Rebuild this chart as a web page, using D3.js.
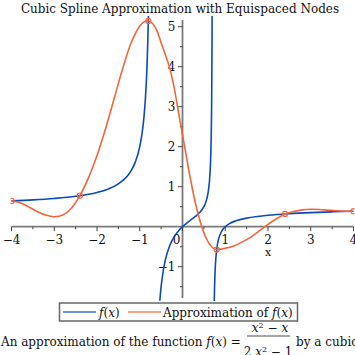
<!DOCTYPE html>
<html><head><meta charset="utf-8">
<script src="https://cdn.jsdelivr.net/npm/d3@7"></script>
<style>
body{margin:0;background:#fff;overflow:hidden;}
svg{display:block;}
text{font-family:"DejaVu Serif",serif;fill:#111;}
</style>
</head><body>
<svg id="chart" width="355" height="355"></svg>
<script>
// ---------- data ----------
const titleText = "Cubic Spline Approximation with Equispaced Nodes";
const xTicks = [-4, -3, -2, -1, 0, 1, 2, 3, 4];
const xMinorTicks = [-3.5, -2.5, -1.5, -0.5, 0.5, 1.5, 2.5, 3.5];
const yTicks = [-1, 1, 2, 3, 4, 5];
const yMinorTicks = [-1.5, -0.5, 0.5, 1.5, 2.5, 3.5, 4.5];
const legendLabels = ["f(x)", "Approximation of f(x)"];

// spline nodes
const nodeX = [-4, -2.4, -0.8, 0.8, 2.4, 4];
const nodeY = [0.645, 0.776, 5.143, -0.571, 0.319, 0.387];

// f(x) branches
const fLeftX = [-4, -3.5, -3, -2.5, -2, -1.75, -1.5, -1.3, -1.2, -1.1, -1.0, -0.95, -0.9, -0.87, -0.85, -0.83, -0.81, -0.8, -0.79, -0.78];
const fLeftY = [0.645, 0.670, 0.706, 0.761, 0.857, 0.939, 1.071, 1.256, 1.404, 1.627, 2.0, 2.301, 2.758, 3.166, 3.534, 4.020, 4.696, 5.143, 5.697, 6.40];
const fMidX = [-0.53, -0.52, -0.5, -0.45, -0.4, -0.3, -0.2, -0.1, 0, 0.1, 0.2, 0.3, 0.4, 0.5, 0.55, 0.6, 0.63, 0.65, 0.67, 0.68, 0.69, 0.695];
const fMidY = [-1.851, -1.721, -1.5, -1.097, -0.824, -0.476, -0.261, -0.112, 0, 0.092, 0.174, 0.256, 0.353, 0.5, 0.627, 0.857, 1.131, 1.468, 2.163, 2.894, 4.475, 6.244];
const fRightX = [0.72, 0.73, 0.74, 0.75, 0.77, 0.8, 0.85, 0.9, 0.95, 1.0, 1.1, 1.25, 1.5, 1.75, 2.0, 2.5, 3.0, 3.5, 4.0];
const fRightY = [-5.478, -2.995, -2.021, -1.5, -0.953, -0.571, -0.287, -0.145, -0.059, 0, 0.078, 0.147, 0.214, 0.256, 0.286, 0.326, 0.353, 0.372, 0.387];

// spline approximation
const approxX = [-4, -3.8, -3.6, -3.4, -3.2, -3.0, -2.8, -2.6, -2.4, -2.2, -2.0, -1.8, -1.6, -1.4, -1.2, -1.0, -0.9, -0.8, -0.7, -0.6, -0.5, -0.4, -0.3, -0.2, -0.1, 0, 0.1, 0.2, 0.3, 0.4, 0.5, 0.6, 0.7, 0.8, 0.9, 1.0, 1.2, 1.4, 1.6, 1.8, 2.0, 2.2, 2.4, 2.6, 2.8, 3.0, 3.2, 3.4, 3.6, 3.8, 4.0];
const approxY = [0.645, 0.60, 0.50, 0.38, 0.29, 0.25, 0.29, 0.46, 0.776, 1.22, 1.78, 2.45, 3.2, 3.95, 4.6, 5.02, 5.12, 5.143, 5.08, 4.9, 4.6, 4.3, 3.97, 3.5, 2.9, 2.3, 1.7, 1.12, 0.6, 0.18, -0.15, -0.38, -0.52, -0.571, -0.56, -0.54, -0.48, -0.38, -0.26, -0.1, 0.06, 0.2, 0.319, 0.38, 0.42, 0.435, 0.43, 0.415, 0.40, 0.39, 0.387];

// ---------- drawing ----------
const blue = "#0b49bd", orange = "#f4643a", axisCol = "#7a7a7a";
const svg = d3.select("#chart");
const x = d3.scaleLinear().domain([-4, 4]).range([11.5, 353.5]);
const y = d3.scaleLinear().domain([-1.8, 5.2]).range([298.7, 18.7]);

svg.append("defs").append("clipPath").attr("id", "plotclip")
  .append("rect").attr("x", x(-4) - 1).attr("y", 16).attr("width", x(4) - x(-4) + 2).attr("height", 285);

svg.append("text").attr("x", 180).attr("y", 13).attr("text-anchor", "middle")
  .style("font-size", "12px").text(titleText);

// axes
const ax = svg.append("g");
ax.append("line").attr("x1", x(-4)).attr("x2", x(4)).attr("y1", y(0)).attr("y2", y(0))
  .attr("stroke", axisCol).attr("stroke-width", 1.8);
ax.append("line").attr("x1", x(0)).attr("x2", x(0)).attr("y1", y(5.17)).attr("y2", y(-1.78))
  .attr("stroke", axisCol).attr("stroke-width", 1.8);

ax.selectAll(".xt").data(xTicks).join("line")
  .attr("x1", d => x(d)).attr("x2", d => x(d)).attr("y1", y(0)).attr("y2", y(0) + 4.5)
  .attr("stroke", "#444").attr("stroke-width", 1);
ax.selectAll(".xm").data(xMinorTicks).join("line")
  .attr("x1", d => x(d)).attr("x2", d => x(d)).attr("y1", y(0)).attr("y2", y(0) + 2.5)
  .attr("stroke", "#444").attr("stroke-width", 1);
ax.selectAll(".yt").data(yTicks).join("line")
  .attr("x1", x(0) - 4.5).attr("x2", x(0)).attr("y1", d => y(d)).attr("y2", d => y(d))
  .attr("stroke", "#444").attr("stroke-width", 1);
ax.selectAll(".ym").data(yMinorTicks).join("line")
  .attr("x1", x(0) - 2.5).attr("x2", x(0)).attr("y1", d => y(d)).attr("y2", d => y(d))
  .attr("stroke", "#444").attr("stroke-width", 1);

const fmt = d => (d < 0 ? "\u2212" + Math.abs(d) : String(d));
ax.selectAll(".xl").data(xTicks).join("text")
  .attr("x", d => d === 0 ? x(d) - 6 : x(d)).attr("y", y(0) + 17)
  .attr("text-anchor", "middle").style("font-size", "12px").text(fmt);
ax.selectAll(".yl").data(yTicks).join("text")
  .attr("x", x(0) - 7).attr("y", d => y(d) + 4.3)
  .attr("text-anchor", "end").style("font-size", "12px").text(fmt);
ax.append("text").attr("x", 268).attr("y", 256).attr("text-anchor", "middle")
  .style("font-size", "11px").text("x");

// curves
const plot = svg.append("g").attr("clip-path", "url(#plotclip)");
const lineB = d3.line().x(d => x(d[0])).y(d => y(d[1])).curve(d3.curveMonotoneX);
const branches = [[fLeftX, fLeftY], [fMidX, fMidY], [fRightX, fRightY]];
branches.forEach(([bx, by]) => {
  plot.append("path").datum(bx.map((v, i) => [v, by[i]]))
    .attr("d", lineB).attr("fill", "none").attr("stroke", blue).attr("stroke-width", 1.6);
});
const lineO = d3.line().x(d => x(d[0])).y(d => y(d[1])).curve(d3.curveCatmullRom.alpha(0.5));
plot.append("path").datum(approxX.map((v, i) => [v, approxY[i]]))
  .attr("d", lineO).attr("fill", "none").attr("stroke", orange).attr("stroke-width", 1.6);
plot.selectAll(".node").data(nodeX.map((v, i) => [v, nodeY[i]])).join("circle")
  .attr("cx", d => x(d[0])).attr("cy", d => y(d[1])).attr("r", 2.6)
  .attr("fill", "none").attr("stroke", orange).attr("stroke-width", 1.1);

// legend
const lg = svg.append("g");
lg.append("rect").attr("x", 59.5).attr("y", 303).attr("width", 238).attr("height", 18)
  .attr("fill", "#fff").attr("stroke", "#666").attr("stroke-width", 1.5);
lg.append("line").attr("x1", 63).attr("x2", 96).attr("y1", 312).attr("y2", 312)
  .attr("stroke", blue).attr("stroke-width", 1.4).attr("opacity", 0.8);
lg.append("line").attr("x1", 128).attr("x2", 161).attr("y1", 312).attr("y2", 312)
  .attr("stroke", orange).attr("stroke-width", 1.4).attr("opacity", 0.8);
function mathFx(t) {
  t.append("tspan").style("font-style", "italic").text("f");
  t.append("tspan").text("(");
  t.append("tspan").style("font-style", "italic").text("x");
  t.append("tspan").text(")");
}
const t1 = lg.append("text").attr("x", 99).attr("y", 316.5).style("font-size", "12px");
mathFx(t1);
const t2 = lg.append("text").attr("x", 163).attr("y", 316.5).style("font-size", "12px");
t2.append("tspan").text("Approximation of ");
mathFx(t2);

// caption
const cap = svg.append("text").attr("x", 1).attr("y", 346).style("font-size", "12px");
cap.append("tspan").text("An approximation of the function ");
mathFx(cap);
cap.append("tspan").text(" = ");
const capNum = svg.append("text").attr("x", 270).attr("y", 332).attr("text-anchor", "middle").style("font-size", "12px");
capNum.append("tspan").style("font-style", "italic").text("x");
capNum.append("tspan").attr("dy", -4).style("font-size", "8px").text("2");
capNum.append("tspan").attr("dy", 4).text(" \u2212 ");
capNum.append("tspan").style("font-style", "italic").text("x");
svg.append("line").attr("x1", 247).attr("x2", 290).attr("y1", 336).attr("y2", 336)
  .attr("stroke", "#222").attr("stroke-width", 0.8);
const capDen = svg.append("text").attr("x", 268).attr("y", 356).attr("text-anchor", "middle").style("font-size", "12px");
capDen.append("tspan").text("2 ");
capDen.append("tspan").style("font-style", "italic").text("x");
capDen.append("tspan").attr("dy", -4).style("font-size", "8px").text("2");
capDen.append("tspan").attr("dy", 4).text(" \u2212 1");
svg.append("text").attr("x", 296).attr("y", 346).style("font-size", "12px").text("by a cubic spline.");
</script>
</body></html>
